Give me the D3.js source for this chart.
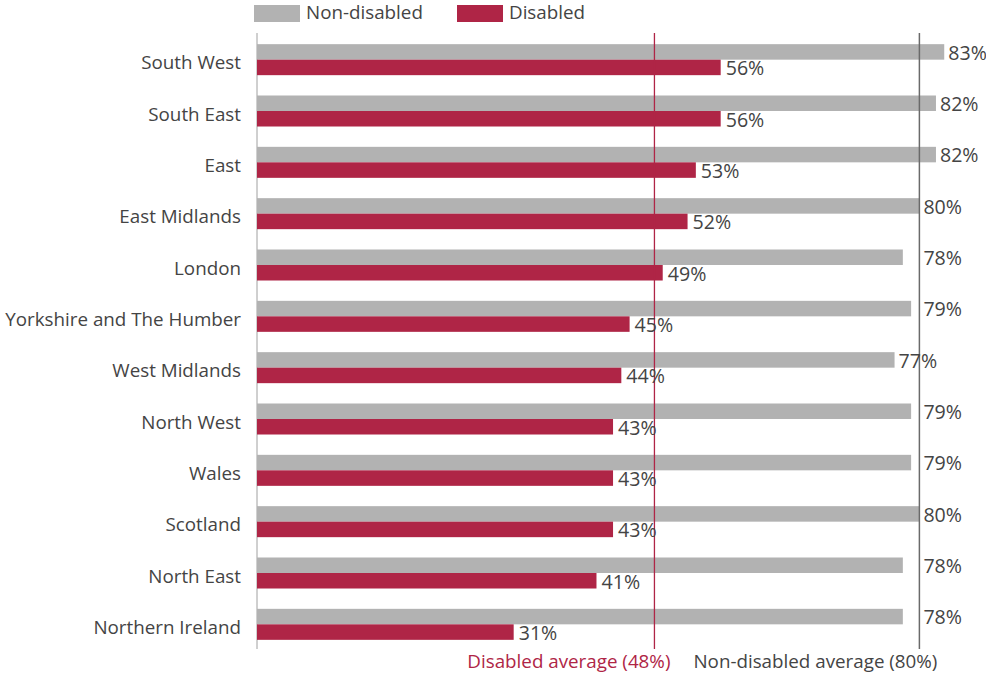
<!DOCTYPE html>
<html>
<head>
<meta charset="utf-8">
<script src="https://cdn.jsdelivr.net/npm/d3@7"></script>
<style>
  html, body { margin: 0; padding: 0; background: #fff; }
  svg { display: block; font-family: "Open Sans", sans-serif; }
</style>
</head>
<body>
<svg id="chart" width="986" height="675"></svg>
<script>
const regions = ["South West", "South East", "East", "East Midlands", "London",
  "Yorkshire and The Humber", "West Midlands", "North West", "Wales", "Scotland",
  "North East", "Northern Ireland"];
const nonDisabled = [83, 82, 82, 80, 78, 79, 77, 79, 79, 80, 78, 78];
const disabled = [56, 56, 53, 52, 49, 45, 44, 43, 43, 43, 41, 31];
const seriesNames = ["Non-disabled", "Disabled"];
const disabledAverage = 48;
const nonDisabledAverage = 80;

const GREY = "#b2b2b2", RED = "#af2546", TEXT = "#444444";
const FS = 18.8, VFS = 19.6;

const svg = d3.select("#chart");
const x = d3.scaleLinear().domain([0, 100]).range([257, 1085]);
const y = d3.scaleBand().domain(regions).range([34, 650]);
const bh = y.bandwidth() * 0.302;
const cy = d => y(d) + y.bandwidth() / 2;

// left axis line
svg.append("line").attr("x1", x(0)).attr("x2", x(0)).attr("y1", 33).attr("y2", 649)
  .attr("stroke", "#a0a0a0").attr("stroke-width", 1);

// category labels
svg.append("g").selectAll("text").data(regions).join("text")
  .attr("x", x(0) - 16).attr("y", d => cy(d) + 9.5)
  .attr("text-anchor", "end").attr("font-size", FS).attr("fill", TEXT)
  .text(d => d);

// bars
const rows = regions.map((r, i) => ({ r, nd: nonDisabled[i], d: disabled[i] }));
svg.append("g").selectAll("rect").data(rows).join("rect")
  .attr("x", x(0)).attr("y", d => cy(d.r) - bh)
  .attr("width", d => x(d.nd) - x(0)).attr("height", bh).attr("fill", GREY);
svg.append("g").selectAll("rect").data(rows).join("rect")
  .attr("x", x(0)).attr("y", d => cy(d.r))
  .attr("width", d => x(d.d) - x(0)).attr("height", bh).attr("fill", RED);

// average lines
const xd = x(disabledAverage), xn = x(nonDisabledAverage);
svg.append("line").attr("x1", xd).attr("x2", xd).attr("y1", 33).attr("y2", 649)
  .attr("stroke", RED).attr("stroke-width", 1.3);
svg.append("line").attr("x1", xn).attr("x2", xn).attr("y1", 33).attr("y2", 649)
  .attr("stroke", "#6a6a6a").attr("stroke-width", 1.5);

// value labels
const fmt = v => v + "%";
svg.append("g").selectAll("text").data(rows).join("text")
  .attr("x", d => {
    let lx = x(d.nd) + 4;
    if (lx > xn - 20 && lx < xn + 4) lx = xn + 4;
    return lx;
  })
  .attr("y", d => cy(d.r) - bh / 2 + 7.8)
  .attr("font-size", VFS).attr("fill", TEXT).text(d => fmt(d.nd));
svg.append("g").selectAll("text").data(rows).join("text")
  .attr("x", d => x(d.d) + 5)
  .attr("y", d => cy(d.r) + bh / 2 + 7.8)
  .attr("font-size", VFS).attr("fill", TEXT).text(d => fmt(d.d));

// average labels
svg.append("text").attr("x", xd + 16).attr("y", 668).attr("text-anchor", "end")
  .attr("font-size", FS).attr("fill", RED).text("Disabled average (" + disabledAverage + "%)");
svg.append("text").attr("x", xn + 18).attr("y", 668).attr("text-anchor", "end")
  .attr("font-size", FS).attr("fill", TEXT).text("Non-disabled average (" + nonDisabledAverage + "%)");

// legend
const legendX = [254, 457];
const legendCol = [GREY, RED];
const lg = svg.append("g");
seriesNames.forEach((name, i) => {
  lg.append("rect").attr("x", legendX[i]).attr("y", 5).attr("width", 46).attr("height", 17)
    .attr("fill", legendCol[i]);
  lg.append("text").attr("x", legendX[i] + 52).attr("y", 18.5)
    .attr("font-size", FS).attr("fill", TEXT).text(name);
});
</script>
</body>
</html>
